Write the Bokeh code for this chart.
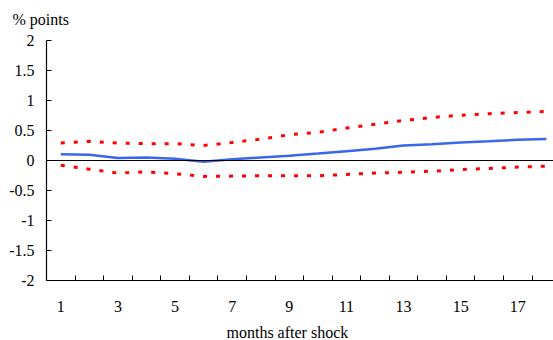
from bokeh.plotting import figure
from bokeh.models import Range1d, FixedTicker, CustomJSTickFormatter, Span, Title
from bokeh.embed import file_html
from bokeh.resources import INLINE

months = list(range(1, 19))
response = [0.105, 0.095, 0.04, 0.05, 0.03, -0.02, 0.02, 0.05, 0.08, 0.115, 0.155, 0.195,
            0.25, 0.27, 0.30, 0.32, 0.345, 0.36]
upper = [0.29, 0.32, 0.29, 0.28, 0.28, 0.25, 0.30, 0.355, 0.43, 0.47, 0.54, 0.605,
         0.667, 0.717, 0.755, 0.78, 0.80, 0.817]
lower = [-0.078, -0.145, -0.21, -0.19, -0.22, -0.265, -0.26, -0.255, -0.255, -0.255, -0.233, -0.21,
         -0.195, -0.178, -0.15, -0.133, -0.11, -0.094]
x_tick_labels = [1, 3, 5, 7, 9, 11, 13, 15, 17]
y_ticks = [-2, -1.5, -1, -0.5, 0, 0.5, 1, 1.5, 2]

FONT = "Times New Roman"

p = figure(width=553, height=340, output_backend="svg", toolbar_location=None,
           x_range=Range1d(0.5, 18.25), y_range=Range1d(-2, 2),
           min_border_left=46, min_border_right=0, min_border_top=40, min_border_bottom=60)
p.outline_line_color = None
p.xgrid.visible = False
p.ygrid.visible = False
p.background_fill_color = "white"

p.add_layout(Span(location=0, dimension="width", line_color="black", line_width=1))

p.line(months, upper, line_color="#ff0000", line_width=3, line_dash="4 9")
p.line(months, lower, line_color="#ff0000", line_width=3, line_dash="4 9")
p.line(months, response, line_color="#3a66ec", line_width=2.5)

xa = p.xaxis[0]
xa.ticker = FixedTicker(ticks=x_tick_labels, minor_ticks=[m + 0.5 for m in range(0, 18)])
xa.major_tick_line_color = None
xa.minor_tick_in = 5
xa.minor_tick_out = 0
xa.minor_tick_line_color = "black"
xa.axis_line_color = "black"
xa.axis_line_width = 1.2
xa.major_label_standoff = 14
xa.major_label_text_font = FONT
xa.major_label_text_font_size = "16px"
xa.major_label_text_color = "black"

ya = p.yaxis[0]
ya.ticker = FixedTicker(ticks=y_ticks, minor_ticks=[])
ya.formatter = CustomJSTickFormatter(code="return tick.toString();")
ya.major_tick_in = 5
ya.major_tick_out = 0
ya.major_tick_line_color = "black"
ya.minor_tick_line_color = None
ya.axis_line_color = "black"
ya.axis_line_width = 1.2
ya.major_label_standoff = 12
ya.major_label_text_font = FONT
ya.major_label_text_font_size = "16px"
ya.major_label_text_color = "black"

# padding order: (left, right, top, bottom)
p.add_layout(Title(text="% points", align="left", offset=-34, standoff=0,
                   padding=(0, 0, 0, 13),
                   text_font=FONT, text_font_size="16px", text_font_style="normal",
                   text_color="black"), "above")
p.add_layout(Title(text="months after shock", align="left", offset=180, standoff=0,
                   padding=(0, 0, 7, 0),
                   text_font=FONT, text_font_size="16px", text_font_style="normal",
                   text_color="black"), "below")

open("out.html", "w").write(file_html(p, INLINE))
